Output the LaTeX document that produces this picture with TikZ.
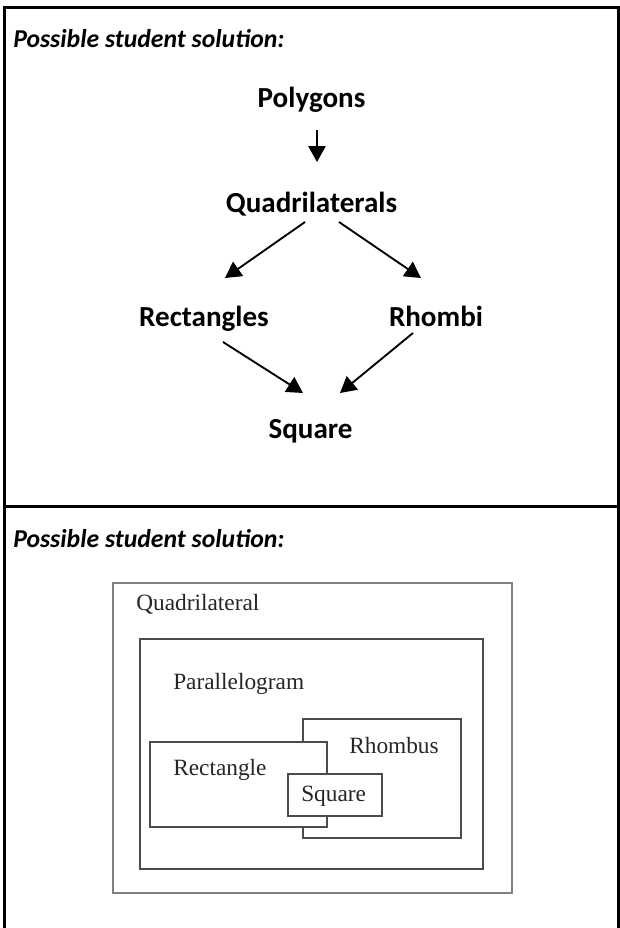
\documentclass[tikz,border=0pt]{standalone}
\usepackage{fontspec}
\setmainfont{Carlito}
\newfontfamily\scanfont{Liberation Serif}
\usetikzlibrary{arrows.meta}

\tikzset{
    cellrule/.style={line width=2.25pt},
    soltitle/.style={anchor=base west, inner sep=0pt, font=\bfseries\itshape\fontsize{19.3}{23}\selectfont},
    conc/.style={anchor=base, inner sep=0pt, font=\bfseries\fontsize{21.8}{26}\selectfont},
    isa/.style={->, line width=1.4pt},
    setbox/.style={draw=black!70, line width=1.1pt, fill=white},
    setname/.style={anchor=base west, inner sep=0pt, text=black!85, font=\scanfont\fontsize{17.5}{20}\selectfont},
}

\begin{document}
\begin{tikzpicture}[x=0.75pt, y=-0.75pt, >={Triangle[length=12pt,width=13pt]}]
    \useasboundingbox (0,0) rectangle (620,928);

    % 1. Table frame and headings
    \draw[cellrule] (4,928) -- (4,7) -- (618.5,7) -- (618.5,928);
    \draw[cellrule] (4,506) -- (618.5,506);
    \node[soltitle] (head1) at (13,47) {Possible student solution:};
    \node[soltitle] (head2) at (13,547) {Possible student solution:};

    % 2. Hierarchy of shapes
    \node[conc] (pol)  at (311.5,107) {Polygons};
    \node[conc] (quad) at (311.5,212) {Quadrilaterals};
    \node[conc] (rect) at (204,326)   {Rectangles};
    \node[conc] (rhom) at (436,326)   {Rhombi};
    \node[conc] (sq)   at (310.5,438) {Square};

    \draw[isa] ([shift={(5.5,23)}]pol.base)  -- ([shift={(5.5,-50)}]quad.base);
    \draw[isa] ([shift={(-6.5,10)}]quad.base) -- ([shift={(21,-48)}]rect.base);
    \draw[isa] ([shift={(27.5,10)}]quad.base) -- ([shift={(-15,-48)}]rhom.base);
    \draw[isa] ([shift={(19,16)}]rect.base)   -- ([shift={(-7.5,-45)}]sq.base);
    \draw[isa] ([shift={(-23,7)}]rhom.base)   -- ([shift={(29.5,-45)}]sq.base);

    % 3. Nested boxes
    \draw[setbox, draw=black!50] (113,583) rectangle (512,893);
    \draw[setbox] (140,639) rectangle (483,869);
    \draw[setbox] (303,719) rectangle (461,838);
    \draw[setbox] (150,742) rectangle (327,827);
    \draw[setbox] (288,774) rectangle (382,816);

    \node[setname] (nquad) at (136,610) {Quadrilateral};
    \node[setname] (npar)  at (173,689) {Parallelogram};
    \node[setname] (nrho)  at (349,753) {Rhombus};
    \node[setname] (nrec)  at (173,775) {Rectangle};
    \node[setname] (nsq)   at (301,801) {Square};
\end{tikzpicture}
\end{document}
